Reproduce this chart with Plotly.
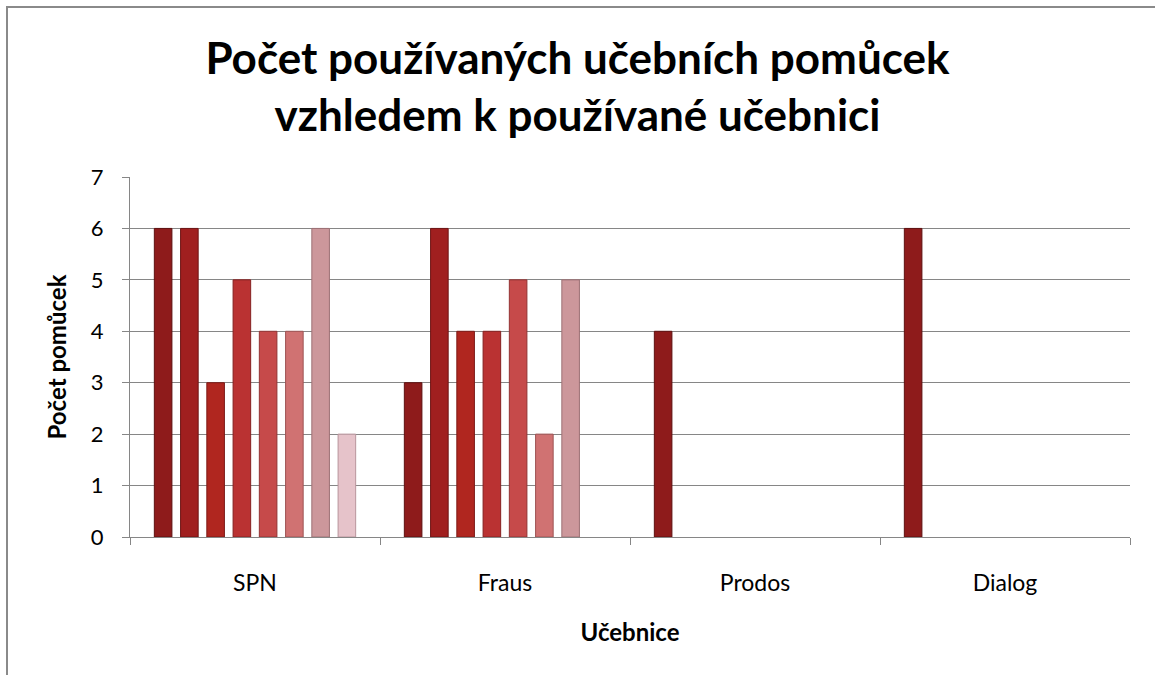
import plotly.graph_objects as go

categories = ["SPN", "Fraus", "Prodos", "Dialog"]
series_names = ["Řada 1", "Řada 2", "Řada 3", "Řada 4", "Řada 5", "Řada 6", "Řada 7", "Řada 8"]
s1 = [6, 3, 4, 6]
s2 = [6, 6, None, None]
s3 = [3, 4, None, None]
s4 = [5, 4, None, None]
s5 = [4, 5, None, None]
s6 = [4, 2, None, None]
s7 = [6, 5, None, None]
s8 = [2, None, None, None]
series_values = [s1, s2, s3, s4, s5, s6, s7, s8]
colors = ["#8E1B1B", "#A01F1F", "#B0261F", "#BA3232", "#C64A4A", "#D07272", "#CC979B", "#E6C3CA"]
line_colors = ["#5E1010", "#6E1414", "#7C1A16", "#852222", "#933434", "#9E5454", "#9C7074", "#B8959C"]
y_ticks = [0, 1, 2, 3, 4, 5, 6, 7]

FONT = "Lato, 'Open Sans', sans-serif"

fig = go.Figure()
for name, vals, c, lc in zip(series_names, series_values, colors, line_colors):
    fig.add_trace(go.Bar(
        x=categories, y=vals, name=name,
        marker=dict(color=c, line=dict(color=lc, width=1)),
    ))

fig.update_layout(
    width=1155, height=675,
    paper_bgcolor="white", plot_bgcolor="white",
    barmode="group", bargap=0.16, bargroupgap=0.33,
    showlegend=False,
    margin=dict(l=130, r=25, t=177, b=138, autoexpand=False),
    font=dict(family=FONT, color="black"),
    title=dict(
        text="<b>Počet používaných učebních pomůcek<br>vzhledem k používané učebnici</b>",
        x=0.5, xanchor="center", xref="container",
        yref="container", y=0.89, yanchor="middle",
        font=dict(size=44, family=FONT, color="black"),
    ),
    xaxis=dict(
        type="category",
        showline=True, linecolor="#868686", linewidth=1,
        ticks="outside", tickson="boundaries", ticklen=7, tickcolor="#868686",
        tickfont=dict(size=23, family=FONT),
        ticklabelstandoff=25,
        showgrid=False,
        title=dict(text="<b>Učebnice</b>", font=dict(size=24, family=FONT), standoff=29),
    ),
    yaxis=dict(
        range=[0, 7], tickvals=y_ticks,
        showline=True, linecolor="#868686", linewidth=1,
        ticks="outside", ticklen=7, tickcolor="#868686",
        ticklabelstandoff=14,
        showgrid=True, gridcolor="#868686", gridwidth=1,
        tickfont=dict(size=22, family=FONT),
        zeroline=False,
        title=dict(text="<b>Počet pomůcek</b>", font=dict(size=24, family=FONT), standoff=17),
    ),
    shapes=[dict(
        type="rect", xref="paper", yref="paper",
        x0=-0.123, x1=1.2, y0=-0.6, y1=1.472,
        line=dict(color="#8A8A8A", width=2), fillcolor="rgba(0,0,0,0)", layer="below",
    )],
)

fig.write_html(
    "out.html",
    config={"displayModeBar": False},
    post_script="document.body.style.margin='0';document.body.style.padding='0';document.body.style.overflow='hidden';",
)
